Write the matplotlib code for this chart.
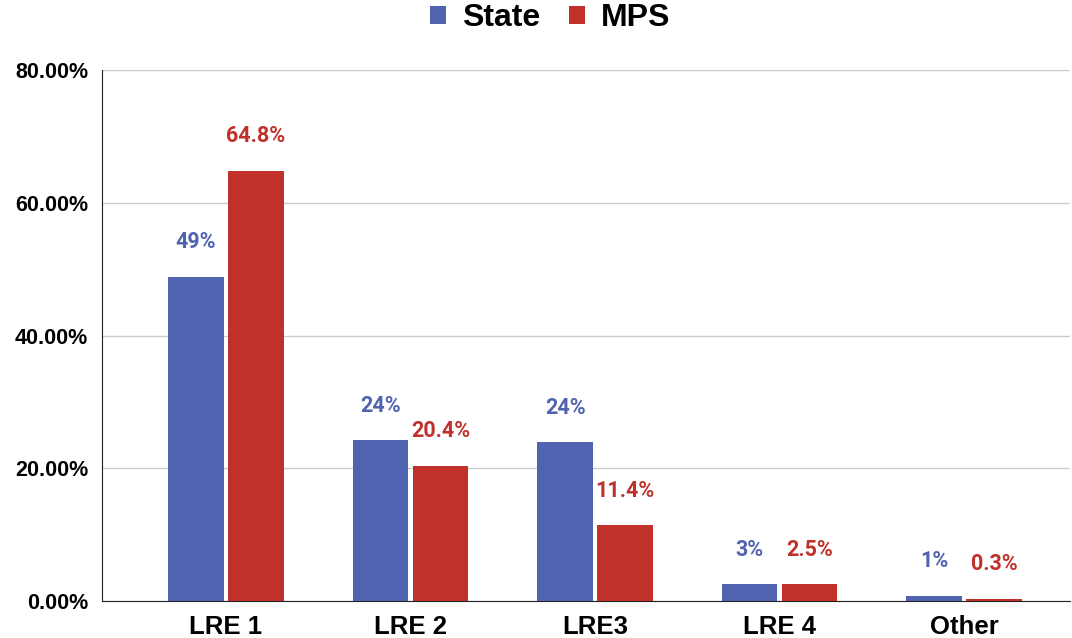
import matplotlib.pyplot as plt
import numpy as np

categories = ['LRE 1', 'LRE 2', 'LRE3', 'LRE 4', 'Other']
state_vals = [48.8, 24.2, 23.9, 2.5, 0.75]
mps_vals = [64.8, 20.4, 11.4, 2.5, 0.3]
state_labels = ['49%', '24%', '24%', '3%', '1%']
mps_labels = ['64.8%', '20.4%', '11.4%', '2.5%', '0.3%']
yticks = [0, 20, 40, 60, 80]

state_col = '#5063b0'
mps_col = '#c0312b'

fig = plt.figure(figsize=(10.72, 6.38), dpi=100)
ax = fig.add_axes([102/1072, 1 - 601/638, (1070-102)/1072, (601-70)/638])

x = np.arange(len(categories))
w = 0.30
gap = 0.012
ax.bar(x - w/2 - gap, state_vals, w, color=state_col, label='State', zorder=3)
ax.bar(x + w/2 + gap, mps_vals, w, color=mps_col, label='MPS', zorder=3)

for i in range(len(categories)):
    ax.annotate(state_labels[i], (x[i] - w/2 - gap, state_vals[i]), xytext=(0, 25),
                textcoords='offset points', ha='center', va='center',
                color=state_col, fontsize=15.5, fontweight='bold', family='Roboto')
    ax.annotate(mps_labels[i], (x[i] + w/2 + gap, mps_vals[i]), xytext=(0, 25),
                textcoords='offset points', ha='center', va='center',
                color=mps_col, fontsize=15.5, fontweight='bold', family='Roboto')

ax.set_ylim(0, 80)
ax.set_xlim((102-226)/184.5, (1070-226)/184.5)
ax.set_yticks(yticks)
ax.set_yticklabels(['%.2f%%' % v for v in yticks], fontsize=15.5, fontweight='bold',
                   family='Liberation Sans')
ax.set_xticks(x)
ax.set_xticklabels(categories, fontsize=18.5, fontweight='bold', family='Liberation Sans')
ax.tick_params(axis='y', length=0, pad=10)
ax.tick_params(axis='x', length=0, pad=10)
ax.grid(axis='y', color='#cccccc', linewidth=1, zorder=0)
for s in ['top', 'right']:
    ax.spines[s].set_visible(False)
ax.spines['left'].set_color('#222222')
ax.spines['bottom'].set_color('#222222')

leg = fig.legend(loc='upper center', bbox_to_anchor=(0.513, 1.04), ncol=2, frameon=False,
                 prop={'family': 'Liberation Sans', 'weight': 'bold', 'size': 23},
                 handlelength=0.5, handleheight=0.5, handletextpad=0.5, columnspacing=0.9)

fig.savefig('out.png', dpi=100)
